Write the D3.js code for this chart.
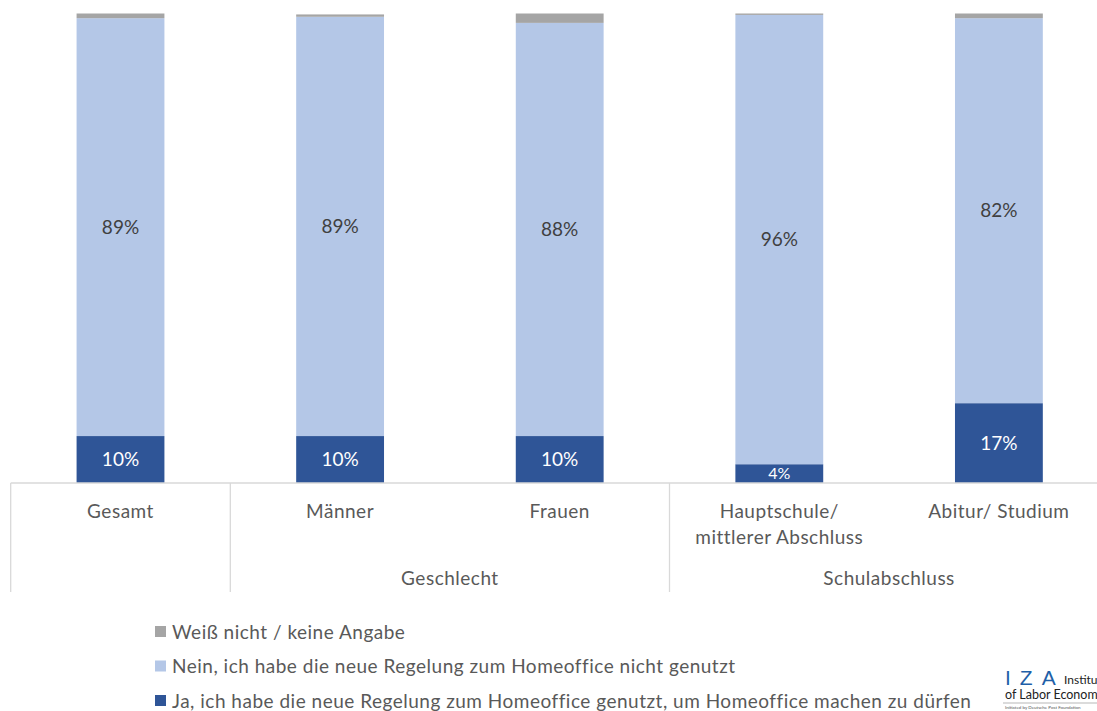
<!DOCTYPE html>
<html><head><meta charset="utf-8">
<script src="https://cdn.jsdelivr.net/npm/d3@7"></script>
<style>
html,body{margin:0;padding:0;background:#fff;}
svg{display:block;font-family:Lato,"Open Sans",sans-serif;}
</style></head>
<body>
<svg id="chart" width="1097" height="711"></svg>
<script>
const categories = ["Gesamt","Männer","Frauen","Hauptschule/\nmittlerer Abschluss","Abitur/ Studium"];
const ja = [10, 10, 10, 4, 17];
const nein = [89, 89.3, 88, 95.7, 82];
const weissNicht = [1, 0.5, 2, 0.3, 1];
const jaLabels = ["10%","10%","10%","4%","17%"];
const neinLabels = ["89%","89%","88%","96%","82%"];
const groups = [{label:"", from:0, to:0},{label:"Geschlecht", from:1, to:2},{label:"Schulabschluss", from:3, to:4}];
const seriesNames = ["Weiß nicht / keine Angabe","Nein, ich habe die neue Regelung zum Homeoffice nicht genutzt","Ja, ich habe die neue Regelung zum Homeoffice genutzt, um Homeoffice machen zu dürfen"];
const colors = {ja:"#2f5597", nein:"#b4c7e7", wn:"#a5a5a5"};

const svg = d3.select("#chart");
const x = d3.scaleBand().domain(d3.range(categories.length)).range([10.7, 1108.7]).paddingInner(0.6).paddingOuter(0.3);
const y = d3.scaleLinear().domain([0,100]).range([483, 13.5]);

const rows = categories.map((c,i)=>({i, ja:ja[i], nein:nein[i], wn:weissNicht[i]}));
const stack = d3.stack().keys(["ja","nein","wn"])(rows);

svg.append("g").selectAll("g").data(stack).join("g")
  .attr("fill", d=>colors[d.key])
  .selectAll("rect").data(d=>d).join("rect")
  .attr("x", d=>x(d.data.i)).attr("width", x.bandwidth())
  .attr("y", d=>y(d[1])).attr("height", d=>y(d[0])-y(d[1]));

// value labels
const lab = svg.append("g").attr("text-anchor","middle");
rows.forEach((r,i)=>{
  lab.append("text").attr("x", x(i)+x.bandwidth()/2).attr("y", y(r.ja/2)).attr("dy","0.35em")
    .attr("fill","#fff").attr("font-size", r.ja<6?16:19).text(jaLabels[i]);
  lab.append("text").attr("x", x(i)+x.bandwidth()/2).attr("y", y(r.ja + r.nein/2)).attr("dy","0.35em")
    .attr("fill","#404040").attr("font-size",19).text(neinLabels[i]);
});

// axis line and category dividers
const axisY = y(0);
const ax = svg.append("g").attr("stroke","#d9d9d9").attr("stroke-width",1.3);
ax.append("line").attr("x1", x.range()[0]).attr("x2", x.range()[1]).attr("y1", axisY).attr("y2", axisY);
const step = x.step();
const divX = [x.range()[0], x.range()[0]+step*1, x.range()[0]+step*3, x.range()[1]];
divX.forEach(d=>ax.append("line").attr("x1",d).attr("x2",d).attr("y1",axisY).attr("y2",592));

// category labels
const cl = svg.append("g").attr("text-anchor","middle").attr("fill","#595959").attr("font-size",19).attr("letter-spacing",0.5);
categories.forEach((c,i)=>{
  const t = cl.append("text").attr("x", x(i)+x.bandwidth()/2).attr("y", 518);
  c.split("\n").forEach((ln,k)=>t.append("tspan").attr("x", x(i)+x.bandwidth()/2).attr("dy", k===0?0:26).text(ln));
});
groups.forEach(g=>{
  if(!g.label) return;
  const cx = (x.range()[0]+step*g.from + x.range()[0]+step*(g.to+1))/2;
  cl.append("text").attr("x", cx).attr("y", 585).text(g.label);
});

// legend
const lg = svg.append("g").attr("font-size",19).attr("letter-spacing",0.5).attr("fill","#595959");
const legCols = [colors.wn, colors.nein, colors.ja];
seriesNames.forEach((s,k)=>{
  const yy = 632 + k*34.5;
  lg.append("rect").attr("x",155).attr("y",yy-6).attr("width",11).attr("height",11).attr("fill",legCols[k]);
  lg.append("text").attr("x",172).attr("y",yy).attr("dy","0.35em").text(s);
});

// logo
const logo = svg.append("g");
logo.append("text").attr("x",1005).attr("y",685).attr("fill","#1f5fa8").attr("font-size",21).attr("font-family","Liberation Sans, Arial").attr("letter-spacing",9).text("IZA");
logo.append("text").attr("x",1064).attr("y",684).attr("fill","#222").attr("font-size",12).text("Institute");
logo.append("text").attr("x",1005).attr("y",699).attr("fill","#222").attr("font-size",12.5).text("of Labor Economics");
logo.append("line").attr("x1",1003).attr("x2",1097).attr("y1",703).attr("y2",703).attr("stroke","#888").attr("stroke-width",0.6);
logo.append("text").attr("x",1005).attr("y",709).attr("fill","#555").attr("font-size",4.5).text("Initiated by Deutsche Post Foundation");
</script>
</body></html>
